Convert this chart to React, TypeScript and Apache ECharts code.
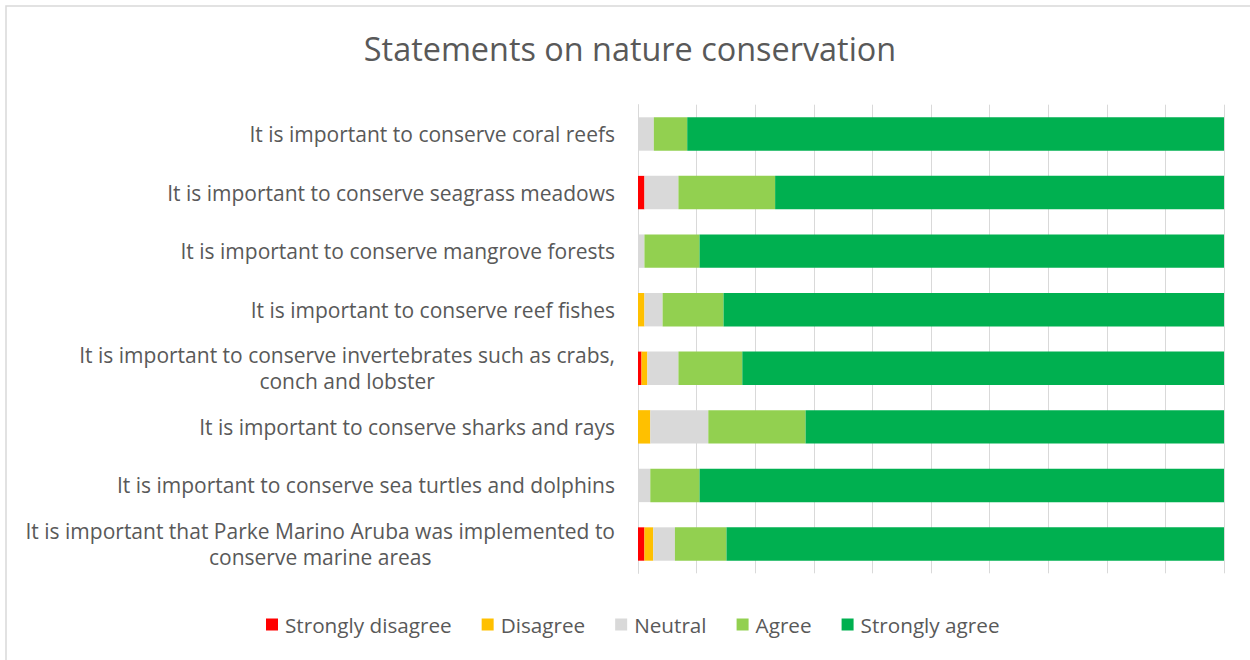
import React, { useEffect, useRef } from "react";
import * as echarts from "echarts";

const categories = [
  "It is important to conserve coral reefs",
  "It is important to conserve seagrass meadows",
  "It is important to conserve mangrove forests",
  "It is important to conserve reef fishes",
  "It is important to conserve invertebrates such as crabs,\nconch and lobster",
  "It is important to conserve sharks and rays",
  "It is important to conserve sea turtles and dolphins",
  "It is important that Parke Marino Aruba was implemented to\nconserve marine areas",
];

const seriesNames = ["Strongly disagree", "Disagree", "Neutral", "Agree", "Strongly agree"];
const seriesColors = ["#FF0000", "#FFC000", "#D9D9D9", "#92D050", "#00B050"];

const stronglyDisagree = [0, 1.1, 0, 0, 0.6, 0, 0, 1.1];
const disagree = [0, 0, 0, 1.1, 1.0, 2.1, 0, 1.5];
const neutral = [2.7, 5.8, 1.1, 3.1, 5.3, 9.9, 2.1, 3.7];
const agree = [5.7, 16.5, 9.4, 10.4, 10.9, 16.6, 8.4, 8.8];
const stronglyAgree = [91.6, 76.6, 89.5, 85.4, 82.2, 71.4, 89.5, 84.9];

const seriesValues = [stronglyDisagree, disagree, neutral, agree, stronglyAgree];

const FONT = "Open Sans";
const TEXT_COLOR = "#595959";

export default function App() {
  const ref = useRef<HTMLDivElement>(null);

  useEffect(() => {
    if (!ref.current) return;
    const chart = echarts.init(ref.current, undefined, { renderer: "svg" });
    chart.setOption({
      animation: false,
      backgroundColor: "#ffffff",
      title: {
        text: "Statements on nature conservation",
        left: 625,
        textAlign: "center",
        top: 27,
        textStyle: { fontFamily: FONT, fontSize: 32.4, fontWeight: "normal", color: TEXT_COLOR },
      },
      graphic: [
        {
          type: "rect",
          shape: { x: 6, y: 6, width: 1260, height: 670 },
          style: { fill: "none", stroke: "#D9D9D9", lineWidth: 1.5 },
          silent: true,
        },
      ],
      legend: {
        top: 609,
        left: 261,
        orient: "horizontal",
        itemWidth: 12,
        itemHeight: 12,
        itemGap: 30,
        icon: "rect",
        textStyle: { fontFamily: FONT, fontSize: 20.7, color: TEXT_COLOR, padding: [0, 0, 0, 2] },
        data: seriesNames,
      },
      grid: {
        left: 638,
        right: 26,
        top: 104.7,
        bottom: 86.7,
        outerBoundsMode: "none",
      },
      xAxis: {
        type: "value",
        min: 0,
        max: 100,
        interval: 10,
        axisLabel: { show: false },
        axisLine: { show: false },
        axisTick: { show: false },
        splitLine: { show: true, lineStyle: { color: "#D9D9D9", width: 1 } },
      },
      yAxis: {
        type: "category",
        inverse: true,
        data: categories,
        axisLine: { show: true, lineStyle: { color: "#D9D9D9", width: 1 } },
        axisTick: { show: false },
        axisLabel: {
          margin: 23,
          fontFamily: FONT,
          fontSize: 21,
          color: TEXT_COLOR,
          lineHeight: 26,
          formatter: (v: string) =>
            v
              .split("\n")
              .map((l) => `{c|${l}}`)
              .join("\n"),
          rich: {
            c: {
              align: "center",
              fontFamily: FONT,
              fontSize: 21,
              color: TEXT_COLOR,
              lineHeight: 26,
            },
          },
        },
      },
      series: seriesNames.map((name, i) => ({
        name,
        type: "bar",
        stack: "total",
        barCategoryGap: "43%",
        itemStyle: { color: seriesColors[i] },
        data: seriesValues[i],
      })),
    });
    return () => chart.dispose();
  }, []);

  return (
    <div
      ref={ref}
      style={{ position: "absolute", left: 0, top: 0, width: 1250, height: 660 }}
    />
  );
}
